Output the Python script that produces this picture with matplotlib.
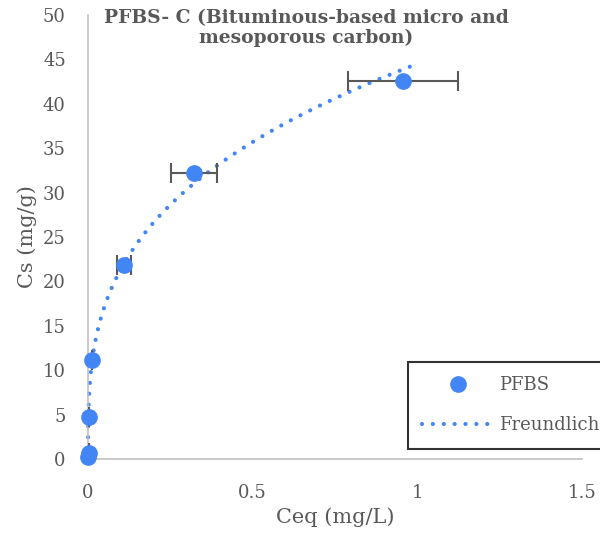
import numpy as np
import matplotlib.pyplot as plt

# PFBS isotherm on bituminous-based carbon
ceq = [0.001, 0.002, 0.002, 0.013, 0.109, 0.322, 0.955]
cs = [0.2, 0.7, 4.7, 11.1, 21.9, 32.2, 42.6]
ceq_err = [0, 0, 0, 0, 0.022, 0.07, 0.167]

# Freundlich fit parameters
K_F = 44.5
n_inv = 0.318

grey = '#595959'
blue = '#4285F4'
plt.rcParams['font.family'] = ['DejaVu Serif']

fig = plt.figure(figsize=(6, 5.36), dpi=100)
ax = fig.add_axes([88/600, 77/536, 494/600, 444/536])

x_fit = np.concatenate([[0], np.geomspace(1e-7, 1.0, 2000)])
y_fit = K_F * x_fit ** n_inv
fit_line, = ax.plot(x_fit, y_fit, color=blue, lw=3, linestyle=(0, (0.01, 2.6)),
                    dash_capstyle='round', clip_on=False, zorder=2)

ax.errorbar(ceq, cs, xerr=ceq_err, fmt='none', ecolor=grey, elinewidth=1.5,
            capsize=7.5, capthick=1.5, zorder=3)
pts, = ax.plot(ceq, cs, 'o', color=blue, markersize=11, clip_on=False, zorder=4)

ax.set_xlim(0, 1.5)
ax.set_ylim(0, 50)
ax.set_xticks([0, 0.5, 1, 1.5])
ax.set_xticklabels(['0', '0.5', '1', '1.5'])
ax.set_yticks(range(0, 51, 5))
for s in ['top', 'right']:
    ax.spines[s].set_visible(False)
for s in ['left', 'bottom']:
    ax.spines[s].set_color('#c0c0c0')
    ax.spines[s].set_linewidth(1.2)
ax.tick_params(axis='both', length=0, labelsize=13, labelcolor=grey)
ax.tick_params(axis='x', pad=18)
ax.tick_params(axis='y', pad=16)

ax.set_xlabel('Ceq (mg/L)', fontsize=15, color=grey, labelpad=4)
ax.set_ylabel('Cs (mg/g)', fontsize=15, color=grey, labelpad=4)

fig.text(0.51, 0.983, 'PFBS- C (Bituminous-based micro and\nmesoporous carbon)',
         ha='center', va='top', fontsize=13.5, fontweight='bold', color=grey,
         linespacing=1.15)

leg = fig.legend([pts, fit_line], ['PFBS', 'Freundlich'], loc='upper left',
                 bbox_to_anchor=(408/600, 1 - 362/536), borderaxespad=0,
                 fontsize=13, handlelength=3.9, frameon=True, fancybox=False,
                 borderpad=0.8, labelspacing=1.2, handletextpad=0.33,
                 labelcolor=grey)
leg.get_frame().set_edgecolor('black')
leg.get_frame().set_linewidth(1.5)

fig.savefig('out.png')
